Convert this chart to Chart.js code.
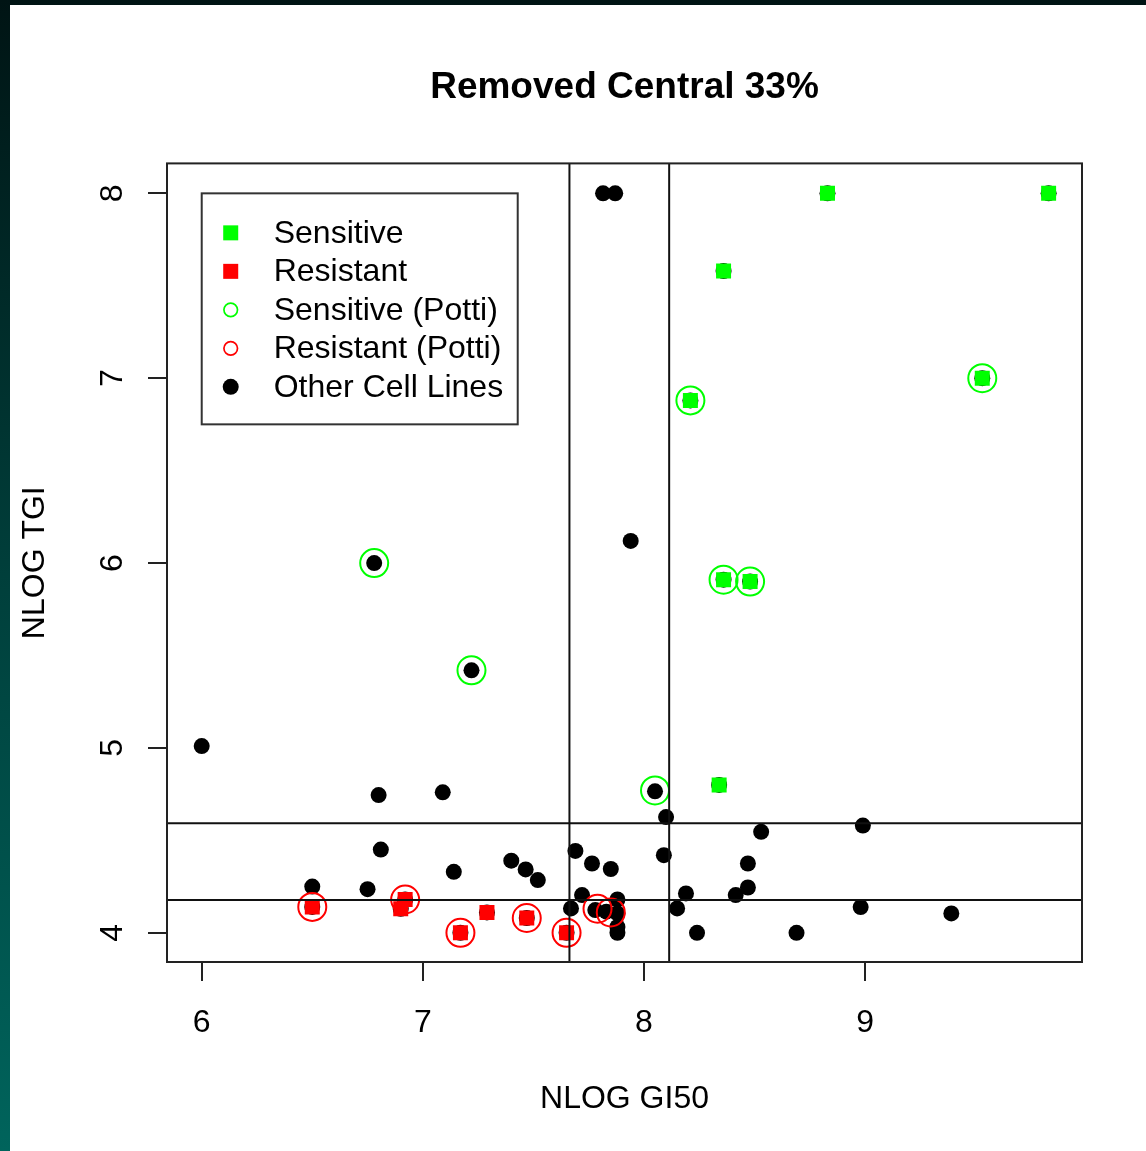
<!DOCTYPE html>
<html>
<head>
<meta charset="utf-8">
<script src="https://cdn.jsdelivr.net/npm/chart.js@4.4.1/dist/chart.umd.min.js"></script>
<style>
html,body{margin:0;padding:0;width:1146px;height:1151px;overflow:hidden;}
body{background:linear-gradient(to bottom,#001414 0%,#003f3b 50%,#00645c 100%);}
#wrap{position:absolute;left:10px;top:5px;width:1136px;height:1146px;background:#fff;}
canvas{display:block;}
</style>
</head>
<body>
<div id="wrap"><canvas id="c" width="1136" height="1146" style="width:1136px;height:1146px"></canvas></div>
<script>
// ---------- data ----------
const titleText = 'Removed Central 33%';
const xLabel = 'NLOG GI50';
const yLabel = 'NLOG TGI';

const xTicks = [6, 7, 8, 9];
const yTicks = [4, 5, 6, 7, 8];
const xRange = [5.843, 9.981];
const yRange = [3.842, 8.162];

// cut-off lines (central 33% removed)
const gi50Cutoffs = [7.663, 8.114];
const tgiCutoffs = [4.177, 4.592];

const sensitiveX = [8.83, 9.83, 8.36, 8.21, 9.53, 8.36, 8.48, 8.34];
const sensitiveY = [8.00, 8.00, 7.58, 6.88, 7.00, 5.91, 5.90, 4.80];

const resistantX = [6.50, 6.92, 6.90, 7.17, 7.29, 7.47, 7.65];
const resistantY = [4.14, 4.18, 4.13, 4.00, 4.11, 4.08, 4.00];

const sensPottiX = [8.21, 9.53, 8.36, 8.48, 6.78, 7.22, 8.05];
const sensPottiY = [6.88, 7.00, 5.91, 5.90, 6.00, 5.42, 4.77];

const resPottiX = [6.50, 6.92, 7.17, 7.47, 7.65, 7.79, 7.85];
const resPottiY = [4.14, 4.18, 4.00, 4.08, 4.00, 4.13, 4.11];

const otherX = [6.00, 6.78, 7.22, 7.94, 7.815, 7.87, 6.80, 7.09, 8.05, 6.81,
                7.14, 7.40, 7.465, 7.52, 6.50, 6.75, 7.69, 7.765, 7.85, 7.72,
                7.88, 7.67, 7.78, 7.83, 7.88, 7.88, 7.88, 8.10, 8.53, 8.99,
                8.09, 8.47, 8.47, 8.415, 8.19, 8.15, 8.24, 8.69, 8.98, 9.39];
const otherY = [5.01, 6.00, 5.42, 6.12, 8.00, 8.00, 4.745, 4.76, 4.765, 4.45,
                4.33, 4.39, 4.343, 4.285, 4.25, 4.236, 4.443, 4.375, 4.345, 4.204,
                4.18, 4.132, 4.123, 4.114, 4.105, 4.032, 4.00, 4.626, 4.546, 4.58,
                4.42, 4.375, 4.245, 4.204, 4.213, 4.132, 4.00, 4.00, 4.139, 4.105];

const legendAnchor = [6, 8]; // legend top-left corner in data units

// ---------- styling ----------
const FAMILY = "'Liberation Sans', Arial, Helvetica, sans-serif";
const GREEN = '#00ff00';
const RED = '#ff0000';
const BLACK = '#000000';

const pts = (xs, ys) => xs.map((x, i) => ({x: x, y: ys[i]}));

const lineSets = [];
gi50Cutoffs.forEach(c => lineSets.push({
  label: 'v' + c, data: [{x: c, y: yRange[0]}, {x: c, y: yRange[1]}],
  showLine: true, borderColor: '#111', borderWidth: 2, pointRadius: 0, order: 0
}));
tgiCutoffs.forEach(c => lineSets.push({
  label: 'h' + c, data: [{x: xRange[0], y: c}, {x: xRange[1], y: c}],
  showLine: true, borderColor: '#111', borderWidth: 2, pointRadius: 0, order: 0
}));

const datasets = [
  ...lineSets,
  { label: 'Sensitive (Potti)', legendKind: 'ring', legendRank: 2,
    data: pts(sensPottiX, sensPottiY), pointStyle: 'circle', pointRadius: 14,
    backgroundColor: 'rgba(0,0,0,0)', borderColor: GREEN, borderWidth: 2, order: 1 },
  { label: 'Resistant (Potti)', legendKind: 'ring', legendRank: 3,
    data: pts(resPottiX, resPottiY), pointStyle: 'circle', pointRadius: 14,
    backgroundColor: 'rgba(0,0,0,0)', borderColor: RED, borderWidth: 2, order: 1 },
  { label: 'Sensitive', legendKind: 'square', legendRank: 0,
    data: pts(sensitiveX, sensitiveY), pointStyle: 'rect', pointRadius: 10.6,
    backgroundColor: GREEN, borderWidth: 0, order: 2 },
  { label: 'Resistant', legendKind: 'square', legendRank: 1,
    data: pts(resistantX, resistantY), pointStyle: 'rect', pointRadius: 10.6,
    backgroundColor: RED, borderWidth: 0, order: 2 },
  { label: 'underlay',
    data: pts(sensitiveX.concat(resistantX), sensitiveY.concat(resistantY)),
    pointStyle: 'circle', pointRadius: 8, backgroundColor: BLACK, borderWidth: 0, order: 3 },
  { label: 'Other Cell Lines', legendKind: 'dot', legendRank: 4,
    data: pts(otherX, otherY), pointStyle: 'circle', pointRadius: 8,
    backgroundColor: BLACK, borderWidth: 0, order: 3 }
];

const boxPlugin = {
  id: 'plotBox',
  afterDatasetsDraw(chart) {
    const a = chart.chartArea, ctx = chart.ctx;
    ctx.save();
    ctx.lineWidth = 2;
    ctx.strokeStyle = '#222';
    ctx.strokeRect(a.left, a.top, a.right - a.left, a.bottom - a.top);
    ctx.restore();
  }
};

const legendPlugin = {
  id: 'boxLegend',
  afterDatasetsDraw(chart) {
    const ctx = chart.ctx, xs = chart.scales.x, ys = chart.scales.y;
    const L = xs.getPixelForValue(legendAnchor[0]);
    const T = ys.getPixelForValue(legendAnchor[1]);
    const W = 316, H = 231;
    ctx.save();
    ctx.lineWidth = 2;
    ctx.strokeStyle = '#333';
    ctx.strokeRect(L, T, W, H);
    const items = chart.data.datasets.filter(d => d.legendKind)
      .sort((a, b) => a.legendRank - b.legendRank);
    items.forEach((d, i) => {
      const cy = T + 39.5 + i * 38.5;
      const cx = L + 29;
      if (d.legendKind === 'square') {
        ctx.fillStyle = d.backgroundColor;
        ctx.fillRect(cx - 7.5, cy - 7.5, 15, 15);
      } else if (d.legendKind === 'ring') {
        ctx.beginPath();
        ctx.arc(cx, cy, 6.8, 0, Math.PI * 2);
        ctx.strokeStyle = d.borderColor;
        ctx.lineWidth = 1.7;
        ctx.stroke();
      } else {
        ctx.beginPath();
        ctx.arc(cx, cy, 8, 0, Math.PI * 2);
        ctx.fillStyle = d.backgroundColor;
        ctx.fill();
      }
      ctx.fillStyle = '#000';
      ctx.font = '32px ' + FAMILY;
      ctx.textAlign = 'left';
      ctx.textBaseline = 'middle';
      ctx.fillText(d.label, L + 72, cy + 1);
    });
    ctx.restore();
  }
};

const tickFont = {family: FAMILY, size: 32};

new Chart(document.getElementById('c'), {
  type: 'scatter',
  data: { datasets: datasets },
  plugins: [boxPlugin, legendPlugin],
  options: {
    responsive: false,
    animation: false,
    events: [],
    layout: { padding: {left: 0, right: 64, top: 0, bottom: 0} },
    plugins: {
      legend: { display: false },
      tooltip: { enabled: false },
      title: {
        display: true, text: titleText, fullSize: false, color: '#000',
        font: {family: FAMILY, size: 37, weight: 'bold'},
        padding: {top: 61, bottom: 53}
      }
    },
    scales: {
      x: {
        type: 'linear', position: 'bottom', min: xRange[0], max: xRange[1],
        afterBuildTicks: s => { s.ticks = xTicks.map(v => ({value: v})); },
        afterFit: s => { s.height = 189; },
        ticks: { font: tickFont, color: '#000', padding: 23, maxRotation: 0,
                 autoSkip: false, callback: v => String(v) },
        grid: { display: true, drawOnChartArea: false, drawTicks: true,
                tickLength: 19, color: '#222', lineWidth: 2 },
        border: { display: false },
        title: { display: true, text: xLabel, color: '#000',
                 font: {family: FAMILY, size: 32}, padding: {top: 0, bottom: 33} }
      },
      y: {
        type: 'linear', position: 'left', min: yRange[0], max: yRange[1],
        afterBuildTicks: s => { s.ticks = yTicks.map(v => ({value: v})); },
        afterFit: s => { s.width = 157; },
        ticks: { font: tickFont, color: '#000', padding: 26, minRotation: 90,
                 maxRotation: 90, crossAlign: 'center', autoSkip: false,
                 callback: v => String(v) },
        grid: { display: true, drawOnChartArea: false, drawTicks: true,
                tickLength: 19, color: '#222', lineWidth: 2 },
        border: { display: false },
        title: { display: true, text: yLabel, color: '#000',
                 font: {family: FAMILY, size: 32}, padding: {top: 6, bottom: 0} }
      }
    }
  }
});
</script>
</body>
</html>
